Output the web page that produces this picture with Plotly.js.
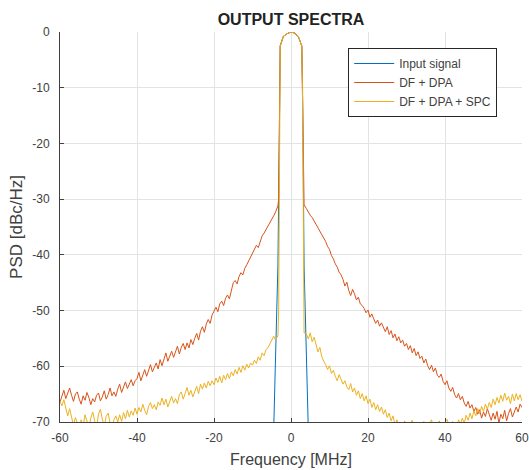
<!DOCTYPE html>
<html><head><meta charset="utf-8">
<script src="https://cdn.plot.ly/plotly-3.0.1.min.js"></script>
<style>html,body{margin:0;padding:0;background:#fff}#chart{width:529px;height:470px}</style>
</head><body><div id="chart"></div>
<script>
// Frequency axis [MHz] for the measured spectra
const freq = [
  -60,-59.5,-59,-58.5,-58,-57.5,-57,-56.5,-56,-55.5,
  -55,-54.5,-54,-53.5,-53,-52.5,-52,-51.5,-51,-50.5,
  -50,-49.5,-49,-48.5,-48,-47.5,-47,-46.5,-46,-45.5,
  -45,-44.5,-44,-43.5,-43,-42.5,-42,-41.5,-41,-40.5,
  -40,-39.5,-39,-38.5,-38,-37.5,-37,-36.5,-36,-35.5,
  -35,-34.5,-34,-33.5,-33,-32.5,-32,-31.5,-31,-30.5,
  -30,-29.5,-29,-28.5,-28,-27.5,-27,-26.5,-26,-25.5,
  -25,-24.5,-24,-23.5,-23,-22.5,-22,-21.5,-21,-20.5,
  -20,-19.5,-19,-18.5,-18,-17.5,-17,-16.5,-16,-15.5,
  -15,-14.5,-14,-13.5,-13,-12.5,-12,-11.5,-11,-10.5,
  -10,-9.5,-9,-8.5,-8,-7.5,-7,-6.5,-6,-5.5,
  -5,-4.5,-4,
  -3.4,-3.2,-3,-2.8,-2,-1,0,1,2,2.8,3,3.2,3.4,
  4,4.5,5,5.5,6,6.5,7,7.5,8,8.5,
  9,9.5,10,10.5,11,11.5,12,12.5,13,13.5,
  14,14.5,15,15.5,16,16.5,17,17.5,18,18.5,
  19,19.5,20,20.5,21,21.5,22,22.5,23,23.5,
  24,24.5,25,25.5,26,26.5,27,27.5,28,28.5,
  29,29.5,30,30.5,31,31.5,32,32.5,33,33.5,
  34,34.5,35,35.5,36,36.5,37,37.5,38,38.5,
  39,39.5,40,40.5,41,41.5,42,42.5,43,43.5,
  44,44.5,45,45.5,46,46.5,47,47.5,48,48.5,
  49,49.5,50,50.5,51,51.5,52,52.5,53,53.5,
  54,54.5,55,55.5,56,56.5,57,57.5,58,58.5,
  59,59.5,60
];

// DF + DPA PSD [dBc/Hz]
const dfDpa = [
  -66.4,-65.1,-64.3,-65.8,-64.9,-63.9,-65.2,-66.3,-65.0,-64.6,
  -65.9,-66.8,-65.3,-66.1,-64.7,-65.6,-66.9,-65.8,-66.4,-65.2,
  -64.8,-66.2,-65.5,-64.4,-65.9,-65.1,-63.9,-65.3,-64.6,-65.4,
  -64.1,-63.2,-64.7,-63.6,-62.8,-64.0,-63.1,-62.4,-63.5,-62.6,
  -62.2,-61.1,-62.6,-61.5,-60.6,-61.8,-60.9,-59.7,-61.0,-60.2,
  -59.4,-60.5,-58.8,-59.9,-58.6,-57.6,-59.1,-58.2,-57.3,-58.4,
  -57.5,-56.4,-57.8,-56.6,-55.9,-57.0,-55.8,-56.7,-55.2,-56.1,
  -55.0,-54.1,-55.3,-53.7,-52.9,-53.9,-52.4,-51.6,-52.3,-50.8,
  -50.1,-49.4,-50.2,-48.8,-48.3,-49.1,-47.8,-47.2,-47.9,-46.6,
  -45.0,-44.6,-45.2,-43.9,-43.2,-43.6,-42.4,-41.8,-41.1,-40.5,
  -39.8,-39.1,-38.3,-38.7,-37.4,-36.6,-36.1,-35.5,-35.0,-34.3,
  -33.6,-33.0,-32.3,
  -31.2,-30,-12,-2.5,-0.8,-0.3,0,-0.2,-1,-2.5,-12,-30,-31,
  -31.7,-32.4,-32.9,-33.3,-33.9,-34.6,-35.1,-35.8,-36.4,-37.1,
  -37.6,-38.5,-39.0,-40.1,-40.7,-41.6,-42.2,-43.1,-43.6,-44.4,
  -45.6,-44.9,-46.4,-47.3,-46.2,-47.0,-48.1,-47.6,-48.8,-49.1,
  -49.6,-50.4,-49.9,-51.2,-50.6,-51.5,-52.3,-51.7,-52.8,-52.2,
  -53.0,-53.8,-52.9,-54.3,-53.6,-54.9,-54.2,-55.4,-54.7,-55.8,
  -55.3,-56.4,-55.9,-57.0,-56.3,-57.6,-56.8,-58.1,-57.4,-58.6,
  -58.2,-59.4,-58.7,-59.9,-60.6,-59.8,-61.0,-60.3,-61.6,-62.0,
  -61.4,-62.7,-63.3,-62.6,-63.9,-64.5,-63.8,-65.1,-65.7,-64.9,
  -66.0,-65.4,-66.6,-67.2,-66.3,-67.5,-66.9,-68.1,-67.4,-68.6,
  -67.8,-69.3,-68.2,-69.0,-67.6,-68.8,-69.7,-68.4,-69.5,-68.1,
  -70.2,-68.6,-69.4,-67.9,-69.8,-68.5,-67.6,-69.1,-68.0,-67.3,
  -68.2,-66.8,-67.4
];

// DF + DPA + SPC PSD [dBc/Hz]
const dfDpaSpc = [
  -66.3,-67.1,-66.0,-67.8,-68.9,-67.6,-69.4,-70.6,-69.2,-70.3,
  -71.2,-69.6,-70.8,-68.7,-70.1,-71.0,-69.3,-68.2,-69.8,-70.9,
  -68.6,-67.7,-69.5,-70.7,-69.0,-68.4,-70.2,-71.3,-69.6,-68.9,
  -70.0,-68.7,-69.9,-68.3,-69.4,-67.9,-69.1,-68.0,-68.8,-67.5,
  -68.6,-67.4,-68.2,-66.8,-67.9,-68.7,-67.2,-66.5,-67.6,-66.9,
  -67.8,-66.4,-67.0,-65.7,-66.9,-65.9,-67.3,-66.2,-65.4,-66.6,
  -65.8,-66.7,-65.1,-64.6,-65.9,-64.9,-63.8,-65.2,-64.3,-65.5,
  -64.4,-63.6,-64.9,-63.2,-64.1,-63.0,-63.9,-62.7,-63.5,-62.6,
  -63.3,-62.1,-62.9,-61.8,-63.0,-61.6,-62.4,-61.3,-62.2,-61.0,
  -61.7,-60.6,-61.4,-60.2,-61.1,-59.9,-60.7,-59.6,-60.3,-59.4,
  -59.8,-58.9,-59.5,-58.3,-58.9,-57.6,-58.1,-57.0,-56.7,-56.0,
  -55.6,-54.6,-55.3,
  -54.5,-50,-12,-2.5,-0.8,-0.3,0,-0.2,-1,-2.5,-12,-50,-54,
  -54.2,-55.1,-54.0,-55.6,-54.8,-56.2,-57.4,-56.6,-58.3,-59.1,
  -59.7,-60.6,-59.9,-61.3,-60.7,-61.8,-62.6,-61.5,-62.3,-63.2,
  -62.6,-63.7,-64.2,-63.1,-64.6,-63.9,-65.2,-64.4,-65.8,-64.9,
  -66.2,-65.3,-66.7,-65.9,-67.4,-66.5,-67.8,-66.9,-68.1,-67.3,
  -68.6,-67.8,-69.2,-68.4,-69.8,-68.9,-70.5,-69.6,-70.9,-70.1,
  -71.2,-69.8,-70.6,-71.5,-70.2,-69.7,-70.8,-71.4,-70.0,-70.9,
  -71.3,-69.9,-70.7,-71.6,-70.3,-69.6,-70.9,-71.2,-70.4,-69.8,
  -70.8,-71.5,-70.1,-69.5,-70.6,-71.3,-69.9,-70.7,-71.1,-69.6,
  -70.4,-69.3,-70.2,-68.8,-69.7,-68.4,-69.4,-68.0,-68.9,-67.6,
  -68.5,-67.2,-68.1,-66.8,-67.7,-66.5,-67.4,-65.9,-66.9,-65.6,
  -66.6,-65.2,-66.3,-64.8,-66.1,-65.4,-66.7,-65.0,-66.2,-64.9,
  -66.0,-65.1,-66.3
];

// Input signal (falls far below the plotted range outside the channel)
const inputFreq = [-60,-5,-4,-3.4,-3.2,-3,-2.8,-2,-1,0,1,2,2.8,3,3.2,3.4,4,5,60];
const inputSignal = [-110,-85,-58,-42,-30,-10,-2.5,-0.8,-0.3,0,-0.2,-1,-2.5,-10,-30,-42,-58,-85,-110];

const seriesNames = ['Input signal', 'DF + DPA', 'DF + DPA + SPC'];
const seriesColors = ['#0072BD', '#D95319', '#EDB120'];

const xTickVals = [-60, -40, -20, 0, 20, 40, 60];
const xTickText = ['-60', '-40', '-20', '0', '20', '40', '60'];
const yTickVals = [0, -10, -20, -30, -40, -50, -60, -70];
const yTickText = ['0', '-10', '-20', '-30', '-40', '-50', '-60', '-70'];

const traces = [
  {x: inputFreq, y: inputSignal, name: seriesNames[0], line: {color: seriesColors[0], width: 1}},
  {x: freq, y: dfDpa, name: seriesNames[1], line: {color: seriesColors[1], width: 1}},
  {x: freq, y: dfDpaSpc, name: seriesNames[2], line: {color: seriesColors[2], width: 1}}
].map(t => Object.assign({type: 'scatter', mode: 'lines'}, t));

const fam = 'Liberation Sans, Arial, sans-serif';
const axisFont = {family: fam, size: 12, color: '#404040'};
const layout = {
  width: 529, height: 470,
  margin: {l: 59.5, r: 7, t: 32, b: 48.3},
  paper_bgcolor: '#fff', plot_bgcolor: '#fff',
  showlegend: true,
  title: {text: 'OUTPUT SPECTRA', x: 0.5, xref: 'paper', y: 1 - 19.7/470, yanchor: 'middle',
          font: {family: fam, size: 16, color: '#222', weight: 'bold'}},
  xaxis: {range: [-60, 60], tickmode: 'array', tickvals: xTickVals, ticktext: xTickText,
          showgrid: true, gridcolor: '#e3e3e3',
          zeroline: false, showline: true, linecolor: '#404040', linewidth: 1,
          ticks: 'inside', ticklen: 4, tickcolor: '#404040', tickfont: axisFont, ticklabelstandoff: 5,
          title: {text: 'Frequency [MHz]', font: {family: fam, size: 16, color: '#404040'}, standoff: 9}},
  yaxis: {range: [-70, 0], tickmode: 'array', tickvals: yTickVals, ticktext: yTickText,
          showgrid: true, gridcolor: '#e3e3e3',
          zeroline: false, showline: true, linecolor: '#404040', linewidth: 1,
          ticks: 'inside', ticklen: 4, tickcolor: '#404040', tickfont: axisFont, ticklabelstandoff: 7,
          title: {text: 'PSD [dBc/Hz]', font: {family: fam, size: 17, color: '#404040'}, standoff: 5}},
  legend: {x: (348-59.5)/462.5, y: 1 - (48-32)/389.7, xanchor: 'left', yanchor: 'top',
           bgcolor: '#fff', bordercolor: '#262626', borderwidth: 1, itemwidth: 40,
           font: {family: fam, size: 12, color: '#404040'}}
};

Plotly.newPlot('chart', traces, layout, {displayModeBar: false, staticPlot: true});
</script>
</body></html>
